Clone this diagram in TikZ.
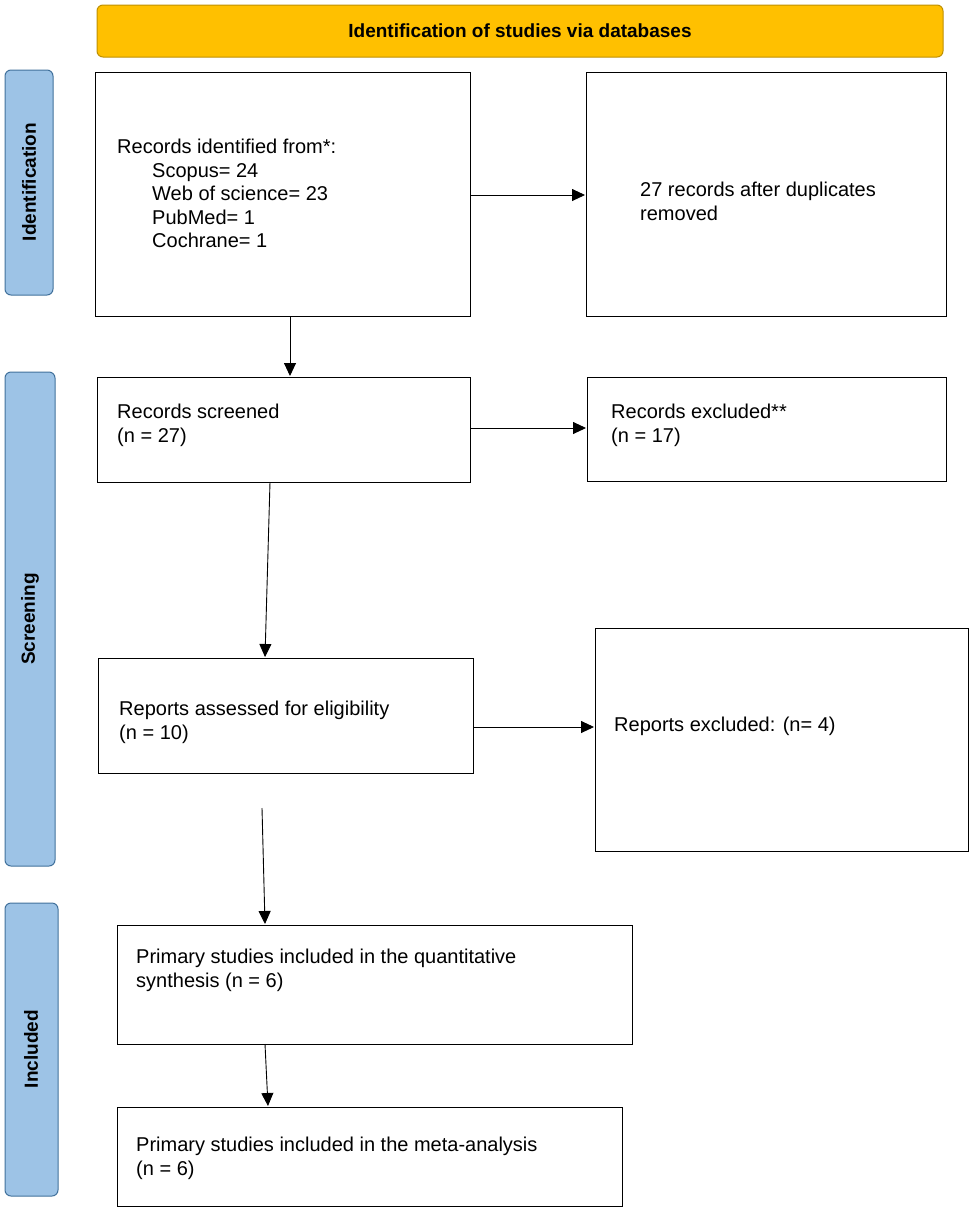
\documentclass[tikz,border=0pt]{standalone}
\usepackage{fontspec}
\setmainfont{Liberation Sans}
\usetikzlibrary{arrows.meta}
\definecolor{hdr}{HTML}{FFC000}
\definecolor{hdrb}{HTML}{BF9000}
\definecolor{side}{HTML}{9DC3E6}
\definecolor{sideb}{HTML}{41719C}
\begin{document}
\begin{tikzpicture}[x=1pt,y=-1pt,
  box/.style={draw,line width=0.8pt},
  txt/.style={anchor=north west,align=left,font=\fontsize{20}{23.5}\selectfont,inner sep=0pt},
  sidel/.style={draw=sideb,fill=side,rounded corners=6pt,line width=1pt},
  stxt/.style={rotate=90,font=\bfseries\fontsize{19}{23}\selectfont},
  arr/.style={-{Triangle[length=13pt,width=12pt]},line width=0.9pt}]
\useasboundingbox (0,0) rectangle (970,1213);
\draw[draw=hdrb,fill=hdr,rounded corners=6pt,line width=1pt] (97,5) rectangle (943,57);
\node[font=\bfseries\fontsize{19}{23}\selectfont] (hdr) at (520,31) {Identification of studies via databases};
\draw[sidel] (5,70) rectangle (53,295);
\node[stxt] (s1) at (29,182) {Identification};
\draw[sidel] (5,372) rectangle (55,866);
\node[stxt] (s2) at (30,619) {Screening};
\draw[sidel] (5,903) rectangle (58,1196);
\node[stxt] (s3) at (31,1049) {Included};
\draw[box] (95,72) rectangle (470,316);
\draw[box] (586,72) rectangle (946,316);
\draw[box] (97,377) rectangle (470,482);
\draw[box] (587,377) rectangle (946,481);
\draw[box] (98,658) rectangle (473,773);
\draw[box] (595,628) rectangle (968,851);
\draw[box] (117,925) rectangle (632,1044);
\draw[box] (117,1107) rectangle (622,1206);
\node[txt] (ta) at (117,139) {Records identified from*:\\\hspace*{35pt}Scopus= 24\\\hspace*{35pt}Web of science= 23\\\hspace*{35pt}PubMed= 1\\\hspace*{35pt}Cochrane= 1};
\node[txt] (tb) at (640,182) {27 records after duplicates\\removed};
\node[txt] (tc) at (117,404) {Records screened\\(n = 27)};
\node[txt] (td) at (611,404) {Records excluded**\\(n = 17)};
\node[txt] (te) at (119,701) {Reports assessed for eligibility\\(n = 10)};
\node[txt] (tf) at (614,717) {Reports excluded: (n= 4)};
\node[txt] (tg) at (136,949) {Primary studies included in the quantitative\\synthesis (n = 6)};
\node[txt] (th) at (136,1137) {Primary studies included in the meta-analysis\\(n = 6)};
\coordinate (a1) at (470,195); \coordinate (b1) at (585,195);
\coordinate (a2) at (290,316); \coordinate (c1) at (290,376);
\coordinate (c2) at (470,428); \coordinate (d1) at (586,428);
\coordinate (c3) at (270,482); \coordinate (e1) at (265,657);
\coordinate (e2) at (473,727); \coordinate (f1) at (594,727);
\coordinate (x1) at (262,808); \coordinate (g1) at (265,924);
\coordinate (g2) at (265,1044); \coordinate (h1) at (268,1106);
\draw[arr] (a1) -- (b1);
\draw[arr] (a2) -- (c1);
\draw[arr] (c2) -- (d1);
\draw[arr] (c3) -- (e1);
\draw[arr] (e2) -- (f1);
\draw[arr] (x1) -- (g1);
\draw[arr] (g2) -- (h1);
\end{tikzpicture}
\end{document}
